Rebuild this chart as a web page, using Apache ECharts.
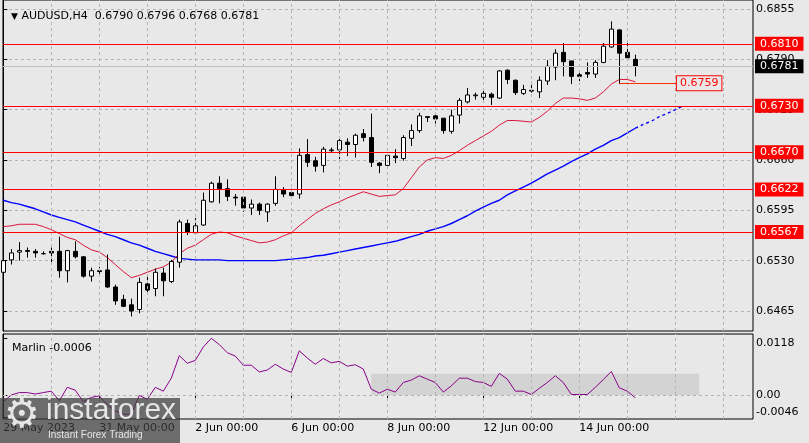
<!DOCTYPE html>
<html><head><meta charset="utf-8">
<script src="https://cdn.jsdelivr.net/npm/echarts@6/dist/echarts.min.js"></script>
<style>html,body{margin:0;padding:0;background:#e8e8e8;}#c{width:809px;height:443px;}</style>
</head><body><div id="c"></div>
<script>
// ---- data (AUDUSD H4, bar index 0 = 29 May 2023 00:00) ----
const opens  = [0.6515,0.6531,0.6541,0.6543,0.6542,0.6539,0.6542,0.6542,0.6517,0.6542,0.6535,0.6510,0.6517,0.6518,0.6496,0.6480,0.6473,0.6467,0.6500,0.6494,0.6514,0.6503,0.6528,0.6578,0.6566,0.6576,0.6606,0.6630,0.6623,0.6612,0.6612,0.6598,0.6603,0.6593,0.6604,0.6621,0.6618,0.6616,0.6667,0.6659,0.6653,0.6672,0.6673,0.6683,0.6680,0.6694,0.6689,0.6656,0.6653,0.6665,0.6662,0.6688,0.6698,0.6716,0.6717,0.6714,0.6697,0.6718,0.6735,0.6743,0.6741,0.6745,0.6740,0.6776,0.6763,0.6746,0.6750,0.6748,0.6762,0.6780,0.6799,0.6788,0.6770,0.6773,0.6771,0.6786,0.6806,0.6828,0.6799,0.6790];
const highs  = [0.6531,0.6545,0.6554,0.6547,0.6545,0.6542,0.6547,0.6561,0.6544,0.6555,0.6536,0.6521,0.6522,0.6538,0.6499,0.6486,0.6481,0.6508,0.6510,0.6520,0.6521,0.6531,0.6583,0.6583,0.6585,0.6618,0.6632,0.6639,0.6635,0.6616,0.6613,0.6609,0.6605,0.6604,0.6639,0.6625,0.6623,0.6675,0.6687,0.6664,0.6677,0.6676,0.6691,0.6688,0.6694,0.6700,0.6720,0.6657,0.6667,0.6674,0.6692,0.6706,0.6721,0.6716,0.6718,0.6714,0.6725,0.6740,0.6753,0.6747,0.6750,0.6747,0.6776,0.6777,0.6764,0.6757,0.6761,0.6768,0.6789,0.6803,0.6811,0.6788,0.6776,0.6786,0.6789,0.6811,0.6839,0.6829,0.6815,0.6796];
const lows   = [0.6514,0.6525,0.6530,0.6534,0.6534,0.6538,0.6527,0.6508,0.6502,0.6533,0.6508,0.6503,0.6512,0.6495,0.6473,0.6470,0.6458,0.6462,0.6486,0.6484,0.6484,0.6501,0.6521,0.6563,0.6564,0.6575,0.6605,0.6604,0.6607,0.6601,0.6593,0.6589,0.6589,0.6580,0.6601,0.6612,0.6611,0.6610,0.6651,0.6645,0.6644,0.6669,0.6661,0.6665,0.6663,0.6684,0.6651,0.6643,0.6651,0.6656,0.6659,0.6678,0.6695,0.6709,0.6707,0.6694,0.6694,0.6707,0.6733,0.6738,0.6737,0.6731,0.6739,0.6758,0.6744,0.6744,0.6747,0.6740,0.6757,0.6763,0.6768,0.6758,0.6762,0.6766,0.6766,0.6785,0.6805,0.6758,0.6791,0.6768];
const closes = [0.6530,0.6540,0.6543,0.6542,0.6540,0.6539,0.6540,0.6517,0.6543,0.6535,0.6510,0.6517,0.6516,0.6496,0.6478,0.6471,0.6465,0.6502,0.6492,0.6515,0.6504,0.6529,0.6580,0.6567,0.6575,0.6608,0.6630,0.6623,0.6613,0.6611,0.6598,0.6603,0.6595,0.6603,0.6622,0.6616,0.6614,0.6666,0.6657,0.6652,0.6674,0.6673,0.6685,0.6680,0.6692,0.6689,0.6657,0.6653,0.6666,0.6663,0.6689,0.6698,0.6717,0.6715,0.6713,0.6698,0.6717,0.6737,0.6744,0.6744,0.6746,0.6741,0.6775,0.6764,0.6747,0.6751,0.6749,0.6763,0.6781,0.6798,0.6787,0.6768,0.6768,0.6771,0.6786,0.6807,0.6829,0.6798,0.6792,0.6781];
const maRed  = [0.6574,0.6575,0.6577,0.6577,0.6577,0.6574,0.6570,0.6565,0.6560,0.6557,0.6550,0.6544,0.6541,0.6534,0.6525,0.6516,0.6508,0.6511,0.6515,0.6519,0.6522,0.6528,0.6539,0.6546,0.6550,0.6557,0.6564,0.6567,0.6566,0.6562,0.6559,0.6556,0.6553,0.6554,0.6557,0.6562,0.6566,0.6575,0.6583,0.6591,0.6597,0.6602,0.6606,0.6611,0.6615,0.6619,0.6616,0.6613,0.6614,0.6615,0.6623,0.6637,0.6651,0.6660,0.6663,0.6662,0.6666,0.6672,0.6679,0.6685,0.6691,0.6697,0.6705,0.6711,0.6711,0.6710,0.6709,0.6715,0.6723,0.6733,0.6740,0.6740,0.6739,0.6737,0.6740,0.6748,0.6758,0.6764,0.6764,0.6761];
const maBlue = [0.6608,0.6605,0.6603,0.6600,0.6597,0.6593,0.6589,0.6586,0.6583,0.6580,0.6576,0.6572,0.6568,0.6564,0.6561,0.6557,0.6553,0.6550,0.6546,0.6542,0.6539,0.6536,0.6533,0.6532,0.6531,0.6531,0.6531,0.6531,0.6530,0.6530,0.6530,0.6530,0.6530,0.6530,0.6530,0.6531,0.6532,0.6533,0.6534,0.6536,0.6537,0.6539,0.6541,0.6543,0.6545,0.6547,0.6549,0.6551,0.6553,0.6555,0.6558,0.6561,0.6564,0.6568,0.6571,0.6574,0.6578,0.6583,0.6588,0.6594,0.6599,0.6604,0.6608,0.6615,0.6620,0.6625,0.6630,0.6636,0.6642,0.6647,0.6652,0.6658,0.6663,0.6668,0.6674,0.6679,0.6685,0.6689,0.6695,0.6701];
const maBlueProj = [0.6701,0.6706,0.6710,0.6716,0.6720,0.6725,0.6730]; // bars 79..85
const marlin = [-0.0014,0.0000,0.0005,0.0005,0.0002,0.0005,0.0008,-0.0012,0.0016,0.0010,-0.0014,-0.0005,-0.0002,-0.0021,-0.0033,-0.0040,-0.0040,-0.0001,-0.0009,0.0016,0.0008,0.0035,0.0082,0.0066,0.0072,0.0100,0.0118,0.0105,0.0088,0.0081,0.0062,0.0062,0.0048,0.0052,0.0064,0.0054,0.0047,0.0092,0.0077,0.0064,0.0076,0.0067,0.0070,0.0060,0.0063,0.0054,0.0012,0.0004,0.0012,0.0006,0.0026,0.0031,0.0040,0.0033,0.0026,0.0006,0.0019,0.0035,0.0035,0.0028,0.0026,0.0018,0.0045,0.0033,0.0008,0.0008,0.0001,0.0014,0.0026,0.0040,0.0026,0.0001,0.0001,0.0001,0.0016,0.0032,0.0049,0.0015,0.0008,-0.0006];
const levels = [0.6810, 0.6730, 0.6670, 0.6622, 0.6567];
const lastPrice = 0.6781;
const markLevel = 0.6759;
const markFrom = 77, markTo = 84.2;
const priceTicks = [0.6855, 0.6790, 0.6725, 0.6660, 0.6595, 0.6530, 0.6465];
const indTicks = [0.0118, 0, -0.0046];
const indTickLabels = ['0.0118', '0.00', '-0.0046'];
const zoneFrom = 46, zoneTo = 87, zoneLow = 0, zoneHigh = 0.0044;
const dateIdx = [0, 12, 24, 36, 48, 60, 72];
const dateLabels = ['29 May 2023', '31 May 00:00', '2 Jun 00:00', '6 Jun 00:00', '8 Jun 00:00', '12 Jun 00:00', '14 Jun 00:00'];
const dayIdx = [6,12,18,24,30,36,42,48,54,60,66,72,78,84,90];

// ---- build ----
const FONT = 'DejaVu Sans';
const N = opens.length;
const idx = opens.map((_, i) => i);
const candleData = idx.map(i => [i, opens[i], closes[i], lows[i], highs[i]]);
const XMIN = -0.0375, XMAX = 93.7125;
const GRIDC = '#b4b4b4';
const last = N - 1;
const titleText = '{t|▼} AUDUSD,H4  ' + [opens[last], highs[last], lows[last], closes[last]].map(v => v.toFixed(4)).join(' ');

const boxLabel = (bg, fg) => ({show: true, position: 'end', distance: 2, formatter: p => Number(p.value).toFixed(4),
  color: fg, backgroundColor: bg, padding: [1, 5, 0, 5], fontSize: 11, fontFamily: FONT, lineHeight: 13});

const levelLines = levels.map(v => ({
  yAxis: v,
  lineStyle: {color: '#ff0000', width: 1, type: 'solid'},
  label: boxLabel('#ff0000', '#ffffff')
}));

const chart = echarts.init(document.getElementById('c'), null, {renderer: 'canvas'});
chart.setOption({
  animation: false,
  backgroundColor: '#e8e8e8',
  textStyle: {fontFamily: FONT},
  title: [
    {text: titleText, left: 6, top: 6, textStyle: {fontSize: 11, fontWeight: 'normal', color: '#000', fontFamily: FONT, rich: {t: {fontSize: 9, color: '#000'}}}},
    {text: 'Marlin ' + marlin[last].toFixed(4), left: 7, top: 338, textStyle: {fontSize: 11, fontWeight: 'normal', color: '#000', fontFamily: FONT}}
  ],
  grid: [
    {left: 3, right: 56, top: 0, height: 331, show: true, borderColor: '#000', borderWidth: 1, backgroundColor: 'transparent'},
    {left: 3, right: 56, top: 334, height: 85, show: true, borderColor: '#000', borderWidth: 1, backgroundColor: 'transparent'}
  ],
  xAxis: [
    {type: 'value', gridIndex: 0, min: XMIN, max: XMAX, axisLine: {show: false}, axisTick: {show: false}, axisLabel: {show: false}, splitLine: {show: false}},
    {type: 'value', gridIndex: 1, min: XMIN, max: XMAX, position: 'bottom', axisLine: {show: false},
      axisTick: {show: true, customValues: dateIdx, length: 4, lineStyle: {color: '#000'}},
      axisLabel: {customValues: dateIdx, formatter: v => dateLabels[dateIdx.indexOf(Math.round(v))], align: 'left', margin: 4, fontSize: 11, color: '#000', fontFamily: FONT},
      splitLine: {show: false}}
  ],
  yAxis: [
    {type: 'value', gridIndex: 0, position: 'right', min: 0.643917, max: 0.686662, scale: true,
      axisLine: {show: true, lineStyle: {color: '#000'}},
      axisTick: {show: true, customValues: priceTicks, length: 4, lineStyle: {color: '#000'}},
      axisLabel: {customValues: priceTicks, formatter: v => v.toFixed(4), margin: 3, fontSize: 11, color: '#000', fontFamily: FONT},
      splitLine: {show: true, lineStyle: {color: GRIDC, type: [3, 3], width: 1}}},
    {type: 'value', gridIndex: 1, position: 'right', min: -0.0050, max: 0.0127, scale: true,
      axisLine: {show: true, lineStyle: {color: '#000'}},
      axisTick: {show: true, customValues: indTicks, length: 4, lineStyle: {color: '#000'}},
      axisLabel: {customValues: indTicks, margin: 3, fontSize: 11, color: '#000', fontFamily: FONT,
        formatter: v => { const k = indTicks.findIndex(t => Math.abs(t - v) < 1e-7); const s = indTickLabels[k];
          return k === 0 ? '{t|' + s + '}' : (k === 2 ? '{b|' + s + '}' : s); },
        rich: {t: {padding: [10, 0, 0, 0], fontSize: 11, fontFamily: FONT, color: '#000'}, b: {padding: [0, 0, 10, 0], fontSize: 11, fontFamily: FONT, color: '#000'}}},
      splitLine: {show: false}}
  ],
  series: [
    {name: 'grid0', type: 'line', xAxisIndex: 0, yAxisIndex: 0, data: [], z: 1, silent: true,
      markLine: {silent: true, symbol: ['none', 'none'], animation: false, precision: 4, label: {show: false},
        lineStyle: {color: GRIDC, type: [3, 3], width: 1},
        data: dayIdx.map(v => ({xAxis: v}))}},
    {name: 'grid1', type: 'line', xAxisIndex: 1, yAxisIndex: 1, data: [], z: 1, silent: true,
      markArea: {silent: true, itemStyle: {color: '#d3d3d3'}, data: [[{coord: [zoneFrom, zoneLow]}, {coord: [zoneTo, zoneHigh]}]]},
      markLine: {silent: true, symbol: ['none', 'none'], animation: false, precision: 4, label: {show: false},
        lineStyle: {color: GRIDC, type: [3, 3], width: 1},
        data: dayIdx.map(v => ({xAxis: v})).concat([{yAxis: 0}])}},
    {name: 'lastline', type: 'line', xAxisIndex: 0, yAxisIndex: 0, data: [], z: 1, silent: true,
      markLine: {silent: true, symbol: ['none', 'none'], animation: false, precision: 4,
        data: [{yAxis: lastPrice, lineStyle: {color: '#c0c0c0', width: 1, type: 'solid'}, label: boxLabel('#000000', '#ffffff')}]}},
    {name: 'MA slow', type: 'line', xAxisIndex: 0, yAxisIndex: 0, data: idx.map(i => [i, maBlue[i]]), symbol: 'none', z: 2,
      lineStyle: {color: '#0000ff', width: 1.4}},
    {name: 'MA slow proj', type: 'line', xAxisIndex: 0, yAxisIndex: 0, data: maBlueProj.map((v, k) => [last + k, v]), symbol: 'none', z: 2,
      lineStyle: {color: '#0000ff', width: 1.4, type: [3, 3]}},
    {name: 'MA fast', type: 'line', xAxisIndex: 0, yAxisIndex: 0, data: idx.map(i => [i, maRed[i]]), symbol: 'none', z: 2,
      lineStyle: {color: '#dc143c', width: 1}},
    {name: 'AUDUSD', type: 'candlestick', xAxisIndex: 0, yAxisIndex: 0, data: candleData, encode: {x: 0, y: [1, 2, 3, 4]},
      barWidth: 5, z: 3,
      itemStyle: {color: '#ffffff', color0: '#000000', borderColor: '#000000', borderColor0: '#000000', borderWidth: 1},
      markLine: {silent: true, symbol: ['none', 'none'], animation: false, precision: 4,
        data: levelLines.concat([[
          {coord: [markFrom, markLevel], lineStyle: {color: '#ff3000', width: 1, type: 'solid'},
            label: {show: true, position: 'end', distance: 0, formatter: () => markLevel.toFixed(4), color: '#ff0000',
              backgroundColor: '#e8e8e8', borderColor: '#ff0000', borderWidth: 1, padding: [2, 3, 1, 3], fontSize: 11, fontFamily: FONT}},
          {coord: [markTo, markLevel]}
        ]])}},
    {name: 'Marlin', type: 'line', xAxisIndex: 1, yAxisIndex: 1, data: idx.map(i => [i, marlin[i]]), symbol: 'none', z: 3,
      lineStyle: {color: '#8b008b', width: 1}}
  ],
  graphic: [
    {type: 'rect', left: 0, top: 398, z: 100, shape: {width: 180, height: 45}, style: {fill: 'rgba(60,60,60,0.72)'}},
    {type: 'text', left: 4, top: 397, z: 101, style: {text: '⚙', fontSize: 40, fill: '#e6e6e6', fontFamily: 'DejaVu Sans'}},
    {type: 'text', left: 46, top: 396, z: 101, style: {text: 'instaforex', fontSize: 30, fill: '#e6e6e6', fontFamily: 'Liberation Sans'}},
    {type: 'text', left: 48, top: 430, z: 101, style: {text: 'Instant Forex Trading', fontSize: 10, fill: '#e6e6e6', fontFamily: 'Liberation Sans'}}
  ]
});
</script>
</body></html>
